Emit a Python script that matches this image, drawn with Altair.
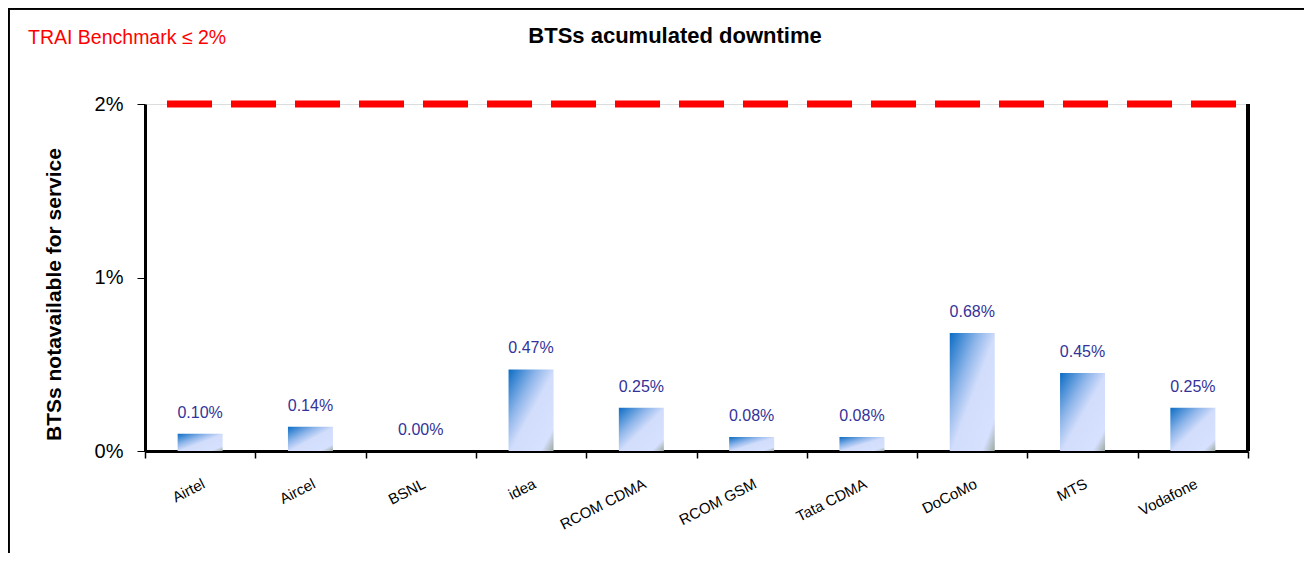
import altair as alt
import pandas as pd

operators = ["Airtel", "Aircel", "BSNL", "idea", "RCOM CDMA", "RCOM GSM",
             "Tata CDMA", "DoCoMo", "MTS", "Vodafone"]
downtime = [0.10, 0.14, 0.00, 0.47, 0.25, 0.08, 0.08, 0.68, 0.45, 0.25]
benchmark = 2
y_ticks = [0, 1, 2]
chart_title = "BTSs acumulated downtime"
bench_label = "TRAI Benchmark \u2264 2%"
y_title = "BTSs notavailable for service"

df = pd.DataFrame({"op": operators, "v": downtime})

W, H = 1103, 347
FONT = "Liberation Sans"

grad = alt.Gradient(
    gradient="linear", x1=0, y1=0, x2=1, y2=1,
    stops=[
        alt.GradientStop(color="#0b6cc4", offset=0.0),
        alt.GradientStop(color="#8fb6ea", offset=0.32),
        alt.GradientStop(color="#d2ddfb", offset=0.52),
        alt.GradientStop(color="#d6e0ff", offset=0.86),
        alt.GradientStop(color="#9aa89c", offset=1.0),
    ],
)

x_enc = alt.X("op:N", sort=operators, title=None,
              scale=alt.Scale(paddingInner=0, paddingOuter=0),
              axis=alt.Axis(labelAngle=-27, labelFontSize=15, labelFont=FONT,
                            labelColor="black", domainColor="black", domainWidth=3,
                            tickColor="black", tickWidth=1.5, tickSize=7,
                            tickBand="extent", labelPadding=18))
y_enc = alt.Y("v:Q", scale=alt.Scale(domain=[0, 2], nice=False),
              title=y_title,
              axis=alt.Axis(values=y_ticks, labelExpr="datum.value + '%'",
                            labelFontSize=20, labelFont=FONT, labelColor="black",
                            grid=False, domainColor="black", domainWidth=3,
                            tickColor="black", tickSize=8, labelPadding=14,
                            titleFont=FONT, titleFontSize=21, titleFontWeight="bold",
                            titleColor="black", titlePadding=30, titleY=190))

base = alt.Chart(df)

bars = base.mark_bar(color=grad, width=45).encode(x=x_enc, y=y_enc)

labels = base.transform_calculate(
    lab="format(datum.v, '.2f') + '%'"
).mark_text(baseline="bottom", dy=-13, fontSize=16, font=FONT, color="#333399").encode(
    x=alt.X("op:N", sort=operators), y="v:Q", text="lab:N"
)

bench = alt.Chart(pd.DataFrame({"b": [benchmark]})).mark_rule(
    color="#ff0000", strokeWidth=7, strokeDash=[45, 19], strokeDashOffset=0
).encode(y="b:Q", x=alt.value(22), x2=alt.value(W - 11))

right_edge = base.mark_rule(color="black", strokeWidth=3).encode(
    x=alt.value(W), y=alt.value(0), y2=alt.value(H)
)

frame_left = base.mark_rule(color="black", strokeWidth=1.5).encode(
    x=alt.value(-136.5), y=alt.value(-96), y2=alt.value(H + 120)
)
frame_top = base.mark_rule(color="black", strokeWidth=1.5).encode(
    x=alt.value(-137), x2=alt.value(W + 70), y=alt.value(-95.5)
)

title_txt = alt.Chart(pd.DataFrame({"t": [chart_title]})).mark_text(
    fontSize=22, fontWeight="bold", font=FONT, color="black",
    align="center", baseline="alphabetic"
).encode(x=alt.value(530), y=alt.value(-61), text="t:N")

bench_txt = alt.Chart(pd.DataFrame({"t": [bench_label]})).mark_text(
    fontSize=19.5, font=FONT, color="#ff0000", align="left", baseline="alphabetic"
).encode(x=alt.value(-117), y=alt.value(-60), text="t:N")

chart = alt.layer(
    bars, labels, bench, right_edge, frame_left, frame_top, title_txt, bench_txt
).properties(
    width=W, height=H,
    autosize=alt.AutoSizeParams(type="none"),
    padding={"left": 137, "top": 96, "right": 56, "bottom": 102},
).configure_view(stroke="black", strokeWidth=1).configure(background="white")

chart.save("out.html", embed_options={"renderer": "svg", "actions": False})
